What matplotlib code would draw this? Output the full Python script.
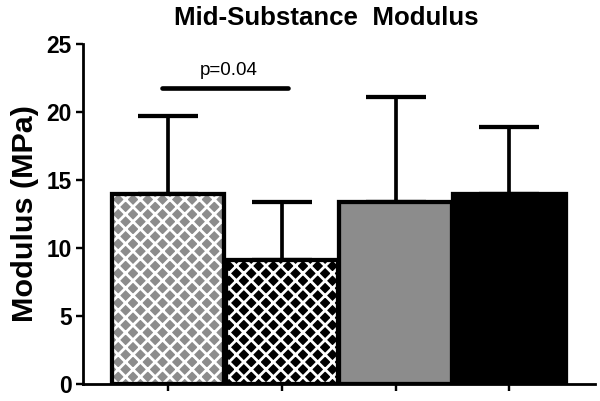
import matplotlib
matplotlib.use("Agg")
import matplotlib.pyplot as plt

plt.rcParams['font.family'] = ['Liberation Sans', 'DejaVu Sans']
plt.rcParams['hatch.linewidth'] = 1.5

# dados
grupos = ["A", "B", "C", "D"]
medias = [14.0, 9.1, 13.4, 14.0]
erros = [5.7, 4.3, 7.7, 4.9]
cores = ["#8c8c8c", "black", "#8c8c8c", "black"]
hachuras = ["xxx", "xxx", "", ""]
p_texto = "p=0.04"
p_altura = 21.8

# dpi maior para a hachura ficar do tamanho do original
DPI = 600 / 4.5
fig = plt.figure(figsize=(4.5, 401 / DPI), dpi=DPI)
ax = fig.add_axes([0.138, 0.0424, 0.853, 0.8476])

x = list(range(len(grupos)))

# barras com hachura branca por baixo, contorno preto por cima
for i in x:
    if hachuras[i]:
        ax.bar(i, medias[i], width=0.99, color=cores[i], edgecolor="white",
               hatch=hachuras[i], linewidth=0, zorder=2)
    else:
        ax.bar(i, medias[i], width=0.99, color=cores[i], linewidth=0, zorder=2)
    ax.bar(i, medias[i], width=0.99, fill=False, edgecolor="black",
           linewidth=2.3, zorder=3)

ax.errorbar(x, medias, yerr=[[0] * len(x), erros], fmt="none", ecolor="black",
            elinewidth=2.0, capsize=16, capthick=2.3, zorder=1)

# linha de significancia
ax.plot([-0.05, 1.05], [p_altura, p_altura], color="black", lw=2.5,
        solid_capstyle="round", clip_on=False)
ax.text(0.53, p_altura + 0.6, p_texto, ha="center", va="bottom", fontsize=10.2)

ax.set_xlim(-0.75, 3.75)
ax.set_ylim(0, 25)
ax.set_yticks([0, 5, 10, 15, 20, 25])
ax.set_xticks(x)
ax.set_xticklabels([])
ax.tick_params(axis="both", direction="out", length=4, width=1.3,
               labelsize=12.3, pad=2)
for lbl in ax.get_yticklabels():
    lbl.set_fontweight("bold")

for s in ["top", "right"]:
    ax.spines[s].set_visible(False)
for s in ["left", "bottom"]:
    ax.spines[s].set_linewidth(1.5)

ax.set_ylabel("Modulus (MPa)", fontsize=16.5, fontweight="bold", labelpad=4)
fig.text(0.543, 0.955, "Mid-Substance  Modulus", ha="center", va="center",
         fontsize=14, fontweight="bold")

fig.savefig("out.png", dpi=DPI)
